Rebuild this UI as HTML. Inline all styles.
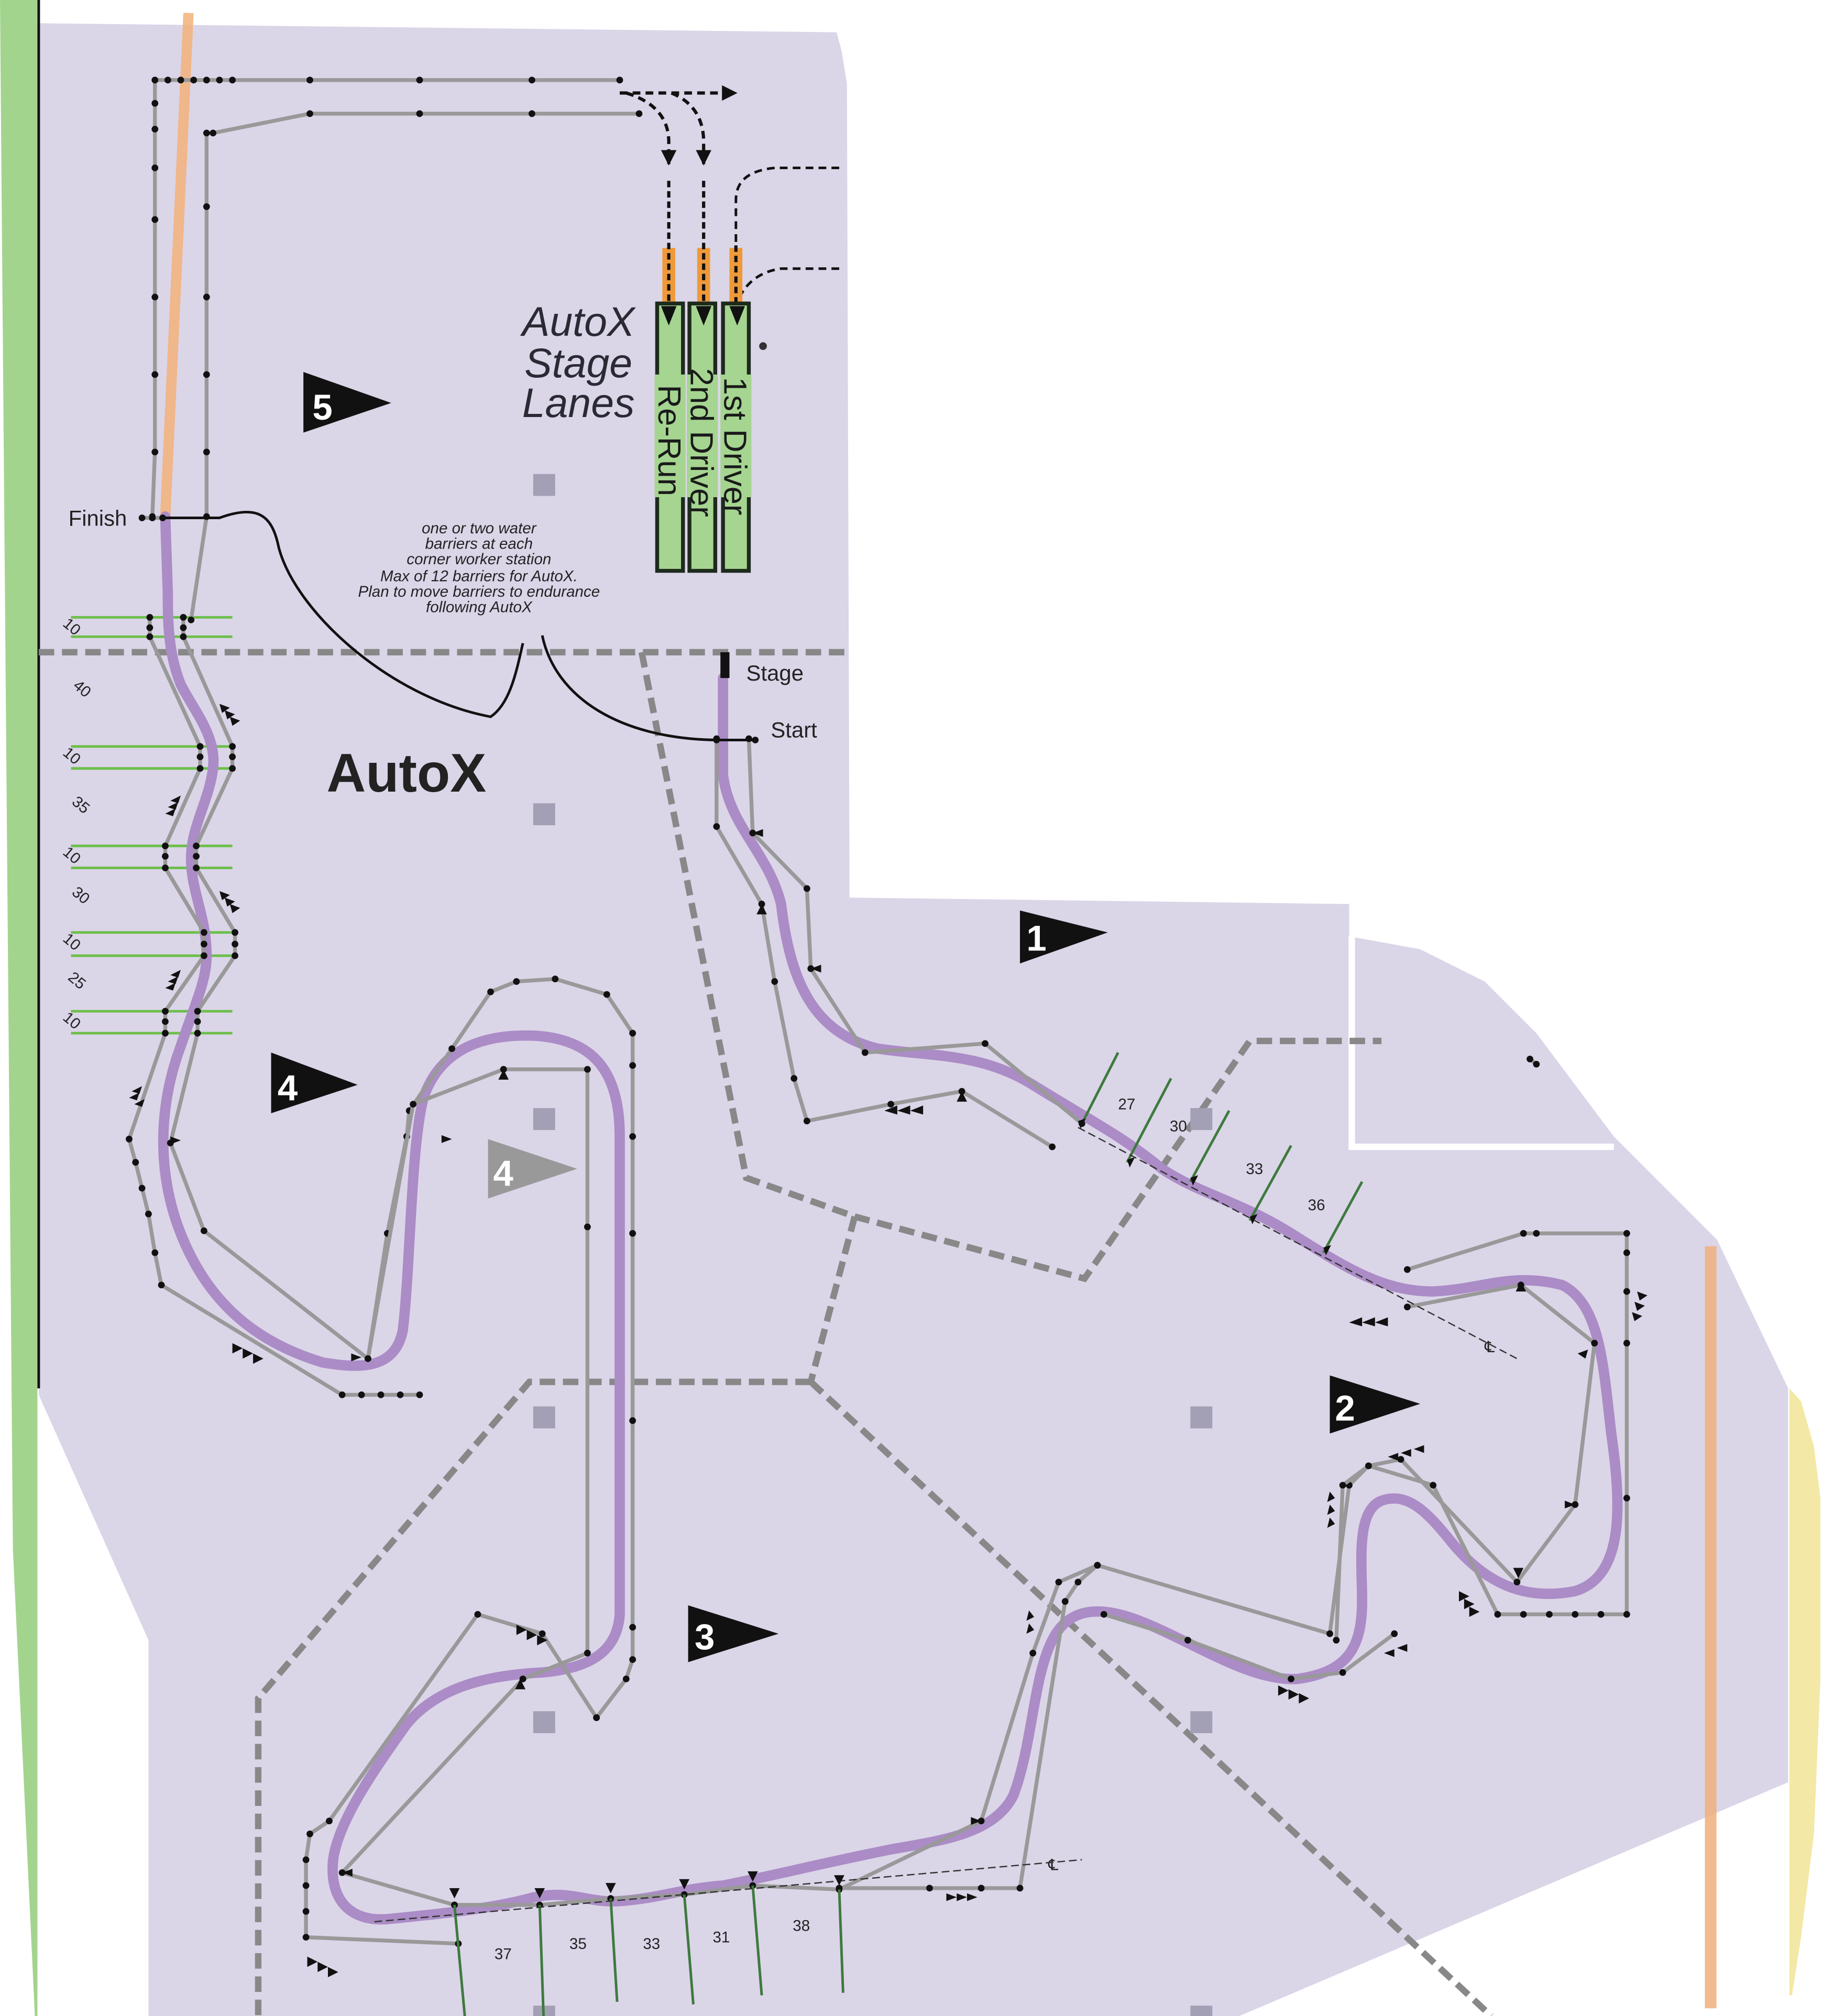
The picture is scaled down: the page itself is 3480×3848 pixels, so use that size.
<!DOCTYPE html>
<html><head><meta charset="utf-8"><style>html,body{margin:0;padding:0;background:#fff}svg{display:block}</style></head>
<body>
<svg width="3480" height="3848" viewBox="0 0 1412 1561" preserveAspectRatio="none" xmlns="http://www.w3.org/2000/svg" font-family="Liberation Sans, sans-serif">
<defs>
<marker id="d" viewBox="-3 -3 6 6" markerWidth="6" markerHeight="6" markerUnits="userSpaceOnUse"><circle r="2.6" fill="#111"/></marker>
<marker id="ah" viewBox="0 0 10 10" refX="9" refY="5" markerWidth="12" markerHeight="12" markerUnits="userSpaceOnUse" orient="auto"><path d="M0,0L10,5L0,10z" fill="#111"/></marker>
</defs>
<rect width="1412" height="1561" fill="#fff"/>
<polygon fill="#dbd5e8" points="30,18 648,25 652,40 656,65 658,695 1045,700 1045,725 1100,735 1150,760 1190,800 1220,840 1250,880 1290,920 1330,960 1385,1075 1385,1380 960,1561 115,1561 115,1270 30,1080"/>
<polyline fill="none" stroke="#fff" stroke-width="5" points="1047,725 1047,888 1250,888"/>
<polygon fill="#a3d48d" points="0,0 29,0 29,1561 27,1561 10,1200 0,0"/>
<line x1="30" y1="0" x2="30" y2="1075" stroke="#111" stroke-width="2"/>
<path d="M1386,1075 L1395,1085 L1405,1120 L1410,1160 L1410,1300 L1405,1420 L1395,1500 L1388,1545 L1386,1545 Z" fill="#f3e8a6"/>
<line x1="146" y1="10" x2="128" y2="400" stroke="#f3b27a" stroke-width="8" opacity="0.85"/>
<line x1="1325" y1="965" x2="1325" y2="1555" stroke="#efb07c" stroke-width="9" opacity="0.85"/>
<g fill="none" stroke="#888" stroke-width="5" stroke-dasharray="12,6">
<line x1="30" y1="505" x2="658" y2="505"/>
<polyline points="497,505 578,912 662,942 840,990 968,806 1070,806"/>
<polyline points="662,942 628,1070"/>
<polyline points="628,1070 410,1070 200,1315 200,1561"/>
<polyline points="628,1070 1155,1561"/>
</g>
<g fill="#a39fb5">
<rect x="413" y="367" width="17" height="17"/><rect x="413" y="622" width="17" height="17"/>
<rect x="413" y="858" width="17" height="17"/><rect x="922" y="858" width="17" height="17"/>
<rect x="413" y="1089" width="17" height="17"/><rect x="922" y="1089" width="17" height="17"/>
<rect x="413" y="1325" width="17" height="17"/><rect x="922" y="1325" width="17" height="17"/>
<rect x="413" y="1553" width="17" height="17"/><rect x="922" y="1553" width="17" height="17"/>
</g>
<g stroke="#6cbf4a" stroke-width="2">
<line x1="55" y1="478" x2="180" y2="478"/><line x1="55" y1="493" x2="180" y2="493"/>
<line x1="55" y1="578" x2="180" y2="578"/><line x1="55" y1="595" x2="180" y2="595"/>
<line x1="55" y1="655" x2="180" y2="655"/><line x1="55" y1="672" x2="180" y2="672"/>
<line x1="55" y1="722" x2="180" y2="722"/><line x1="55" y1="740" x2="180" y2="740"/>
<line x1="55" y1="783" x2="180" y2="783"/><line x1="55" y1="800" x2="180" y2="800"/>
</g>
<g font-size="12" fill="#222">
<text transform="translate(48,484) rotate(40)">10</text>
<text transform="translate(56,532) rotate(40)">40</text>
<text transform="translate(48,584) rotate(40)">10</text>
<text transform="translate(55,622) rotate(40)">35</text>
<text transform="translate(48,661) rotate(40)">10</text>
<text transform="translate(55,692) rotate(40)">30</text>
<text transform="translate(48,728) rotate(40)">10</text>
<text transform="translate(52,758) rotate(40)">25</text>
<text transform="translate(48,789) rotate(40)">10</text>
</g>
<path fill="none" stroke="#ab8cc6" stroke-width="8" stroke-linecap="round" stroke-linejoin="round" d="M560,525 L560,600 C565,640 595,660 605,700 C612,760 630,800 680,812 C720,818 760,815 800,840 C840,865 870,880 900,905 C930,925 960,930 1000,955 C1040,980 1070,1000 1110,1000 C1150,998 1170,985 1210,995 C1240,1010 1242,1060 1248,1110 C1255,1160 1260,1220 1220,1232 C1180,1240 1150,1225 1125,1195 C1105,1170 1090,1155 1070,1162 C1050,1170 1055,1210 1055,1240 C1055,1280 1040,1295 1005,1300 C970,1302 930,1275 890,1258 C860,1245 830,1240 815,1270 C800,1300 800,1350 785,1390 C770,1420 730,1425 690,1432 C640,1442 600,1452 560,1460 C530,1462 510,1470 480,1472 C455,1474 440,1462 410,1470 C380,1478 340,1482 300,1486 C270,1488 255,1470 258,1440 C262,1410 290,1370 315,1335 C340,1305 380,1297 420,1295 C455,1292 478,1280 480,1250 L480,880 C480,830 460,805 415,802 C370,800 340,815 328,850 C318,890 318,980 312,1030 C306,1060 280,1060 250,1055 C200,1040 160,1010 138,950 C120,900 125,850 140,810 C150,780 160,760 160,740 C160,710 148,690 148,665 C148,640 162,620 165,595 C168,570 150,550 140,530 C130,505 130,480 130,460 L128,400"/>
<g fill="none" stroke="#999" stroke-width="3" stroke-linejoin="round" marker-start="url(#d)" marker-mid="url(#d)" marker-end="url(#d)">
<polyline points="480,62 412,62 325,62 240,62 180,62 170,62 160,62 150,62 140,62 130,62 120,62 120,80 120,100 120,130 120,170 120,230 120,290 120,350 118,400"/>
<polyline points="495,88 412,88 325,88 240,88 165,103"/>
<polyline points="160,103 160,160 160,230 160,290 160,350 160,400 148,480"/>
<polyline points="110,401 118,401 126,401"/>
<polyline points="116,478 116,486 116,493 155,578 155,586 155,595 128,655 128,663 128,672 158,722 158,731 158,740 128,783 128,791 128,800 100,882 105,900 110,920 115,940 120,970 125,995 265,1080 280,1080 295,1080 310,1080 325,1080"/>
<polyline points="142,478 142,486 142,493 180,578 180,586 180,595 152,655 152,663 152,672 182,722 182,731 182,740 153,783 153,791 153,800 132,885 158,953 285,1052 300,955 315,880 317,860 350,812 380,768 400,760 430,758 470,770 490,800 490,825 490,880 490,955 490,1100 490,1260 490,1285 485,1300 462,1330"/>
<polyline points="285,1052 320,855 390,828 455,828 455,950 455,1280 405,1300 265,1450 352,1475"/>
<polyline points="462,1330 420,1265 370,1250 255,1410 240,1420 237,1440 237,1460 237,1480 237,1500 355,1505"/>
<polyline points="352,1475 418,1475 473,1470 530,1467 583,1460 650,1463 760,1410 800,1280 820,1225 850,1212 1030,1265 1045,1150 1060,1135 1085,1130 1175,1225 1220,1165 1235,1040 1178,995 1090,1012"/>
<polyline points="650,1462 720,1462 760,1462 790,1462 825,1240 835,1225 850,1212"/>
<polyline points="855,1250 920,1270 1000,1300 1040,1295 1080,1265"/>
<polyline points="1090,983 1180,955 1190,955 1260,955 1260,970 1260,1000 1260,1040 1260,1160 1260,1250 1240,1250 1220,1250 1200,1250 1180,1250 1160,1250 1110,1150 1060,1135 1040,1150 1035,1270"/>
<polyline points="555,572 555,640 590,700 600,760 615,835 625,868 690,855 745,845 815,888"/>
<polyline points="580,572 583,645 625,688 628,750 670,815 763,808 838,870"/>
<polyline points="1185,820 1190,824"/>
</g>
<g stroke="#3e7a3e" stroke-width="2">
<line x1="838" y1="870" x2="866" y2="815"/><line x1="873" y1="900" x2="907" y2="835"/>
<line x1="922" y1="915" x2="952" y2="860"/><line x1="968" y1="945" x2="1000" y2="887"/>
<line x1="1025" y1="970" x2="1055" y2="915"/>
<line x1="352" y1="1475" x2="360" y2="1561"/><line x1="418" y1="1475" x2="421" y2="1561"/>
<line x1="473" y1="1470" x2="478" y2="1550"/><line x1="530" y1="1467" x2="537" y2="1552"/>
<line x1="583" y1="1460" x2="590" y2="1545"/><line x1="650" y1="1463" x2="653" y2="1543"/>
</g>
<g font-size="12" fill="#222">
<text x="866" y="859">27</text><text x="906" y="876">30</text><text x="965" y="909">33</text><text x="1013" y="937">36</text>
<text x="383" y="1517">37</text><text x="441" y="1509">35</text><text x="498" y="1509">33</text><text x="552" y="1504">31</text><text x="614" y="1495">38</text>
<text x="1150" y="1047">℄</text><text x="812" y="1448">℄</text>
</g>
<g stroke="#333" stroke-width="1" stroke-dasharray="6,3">
<line x1="835" y1="873" x2="1175" y2="1052"/><line x1="290" y1="1488" x2="838" y2="1440"/>
</g>
<g fill="#111">
<path d="M835,868 l6,-2 l-4,8z M873,898 l6,-2 l-4,8z M922,912 l6,-2 l-4,8z M968,942 l6,-2 l-4,8z M1025,966 l6,-2 l-4,8z"/>
<path d="M1178,992 l-4,8 h8z M1220,1165 l-8,-3 v6z M1176,1222 l-4,-8 h8z M1230,1045 l-8,3 l6,4z"/>
<path d="M1045,1024 l10,-4 v7z M1055,1024 l10,-4 v7z M1065,1024 l10,-4 v7z"/>
<path d="M695,860 l10,-4 v7z M705,860 l10,-4 v7z M685,860 l10,-4 v7z"/>
<path d="M180,1040 l8,4 l-8,4z M188,1044 l8,4 l-8,4z M196,1048 l8,4 l-8,4z"/>
<path d="M238,1515 l8,4 l-8,4z M246,1519 l8,4 l-8,4z M254,1523 l8,4 l-8,4z"/>
<path d="M733,1466 l8,3 l-8,3z M741,1466 l8,3 l-8,3z M749,1466 l8,3 l-8,3z"/>
<path d="M990,1305 l8,4 l-8,4z M998,1308 l8,4 l-8,4z M1006,1311 l8,4 l-8,4z"/>
<path d="M1130,1232 l8,4 l-8,4z M1134,1238 l8,4 l-8,4z M1138,1244 l8,4 l-8,4z"/>
<path d="M400,1258 l8,4 l-8,4z M408,1262 l8,4 l-8,4z M416,1266 l8,4 l-8,4z"/>
<path d="M170,545 l8,3 l-6,4z M174,550 l8,3 l-6,4z M178,555 l8,3 l-6,4z"/>
<path d="M130,625 l8,-4 l-2,6z M128,630 l8,-4 l-2,6z M132,620 l8,-4 l-2,6z"/>
<path d="M170,690 l8,3 l-6,4z M174,695 l8,3 l-6,4z M178,700 l8,3 l-6,4z"/>
<path d="M130,760 l8,-4 l-2,6z M128,765 l8,-4 l-2,6z M132,755 l8,-4 l-2,6z"/>
<path d="M100,850 l8,-4 l-2,6z M102,845 l8,-4 l-2,6z M104,855 l8,-4 l-2,6z"/>
<path d="M1268,1000 l8,3 l-6,4z M1266,1008 l8,3 l-6,4z M1264,1016 l8,3 l-6,4z"/>
<path d="M1085,1125 l8,-3 v6z M1095,1122 l8,-3 v6z M1075,1128 l8,-3 v6z"/>
<path d="M1030,1155 l-2,8 l6,-3z M1030,1165 l-2,8 l6,-3z M1030,1175 l-2,8 l6,-3z"/>
<path d="M1072,1280 l8,-3 v6z M1082,1276 l8,-3 v6z"/>
<path d="M795,1255 l2,-8 l4,5z M795,1265 l2,-8 l4,5z"/>
<path d="M390,828 l-4,8 h8z M403,1300 l-4,8 h8z M265,1450 l8,-3 v6z M350,882 l-8,-3 v6z M140,883 l-8,-3 v6z M272,1048 l8,3 l-8,3z M628,750 l8,-3 v6z M590,700 l-4,8 h8z M583,645 l8,-3 v6z M745,845 l-4,8 h8z M760,1410 l-8,-3 v6z"/>
<path d="M352,1470 l-4,-8 h8z M418,1470 l-4,-8 h8z M473,1466 l-4,-8 h8z M530,1463 l-4,-8 h8z M583,1457 l-4,-8 h8z M650,1460 l-4,-8 h8z"/>
</g>
<g fill="none" stroke="#111" stroke-width="2">
<path d="M126,401 L170,401 C200,390 210,400 215,420 C225,470 300,540 380,555 C395,545 400,520 405,498"/>
<path d="M420,492 C430,540 480,572 555,573 L585,573"/>
</g>
<rect x="558" y="505" width="7" height="20" fill="#111"/>
<circle cx="555" cy="573" r="2.6" fill="#111"/><circle cx="585" cy="573" r="2.6" fill="#111"/>
<g fill="none" stroke="#111" stroke-width="2.5" stroke-dasharray="6,4">
<path d="M480,72 L570,72" marker-end="url(#ah)"/>
<path d="M485,72 C505,78 518,90 518,110 L518,127" marker-end="url(#ah)"/>
<path d="M520,72 C535,78 545,90 545,110 L545,127" marker-end="url(#ah)"/>
</g>
<g fill="none" stroke="#111" stroke-width="2" stroke-dasharray="6,4">
<path d="M650,130 L600,130 C580,132 570,140 570,155 L570,190"/>
<path d="M650,208 L605,208 C590,210 578,218 572,232"/>
</g>
<rect x="513" y="192" width="10" height="45" fill="#ee9a3a"/>
<rect x="540" y="192" width="10" height="45" fill="#ee9a3a"/>
<rect x="565" y="192" width="10" height="45" fill="#ee9a3a"/>
<g stroke="#111" stroke-width="2.5" stroke-dasharray="5,3"><line x1="518" y1="140" x2="518" y2="235"/><line x1="545" y1="140" x2="545" y2="235"/><line x1="570" y1="190" x2="570" y2="235"/></g>
<g fill="#a5d590" stroke="#1d2a1d" stroke-width="3">
<rect x="509" y="235" width="20" height="207"/><rect x="534" y="235" width="20" height="207"/><rect x="560" y="235" width="20" height="207"/>
</g>
<g fill="#a5d590"><rect x="507" y="290" width="24" height="95"/><rect x="532" y="290" width="24" height="95"/><rect x="558" y="290" width="24" height="95"/></g>
<g fill="#111"><path d="M512,237 h12 l-6,15z M539,237 h12 l-6,15z M565,237 h12 l-6,15z"/></g>
<circle cx="591" cy="268" r="3" fill="#333"/>
<g font-size="25" fill="#1a1a1a">
<text transform="translate(510,298) rotate(90)">Re-Run</text>
<text transform="translate(535,285) rotate(90)">2nd Driver</text>
<text transform="translate(561,292) rotate(90)">1st Driver</text>
</g>
<g font-size="32" font-style="italic" fill="#2a2a35" text-anchor="middle">
<text x="448" y="260">AutoX</text><text x="448" y="292">Stage</text><text x="448" y="323">Lanes</text>
</g>
<g font-size="12" font-style="italic" fill="#222" text-anchor="middle">
<text x="371" y="413">one or two water</text><text x="371" y="425">barriers at each</text>
<text x="371" y="437">corner worker station</text><text x="371" y="450">Max of 12 barriers for AutoX.</text>
<text x="371" y="462">Plan to move barriers to endurance</text><text x="371" y="474">following AutoX</text>
</g>
<text x="253" y="613" font-size="42" font-weight="bold" fill="#222">AutoX</text>
<text x="53" y="407" font-size="17" fill="#222">Finish</text>
<text x="578" y="527" font-size="17" fill="#222">Stage</text>
<text x="597" y="571" font-size="17" fill="#222">Start</text>
<g font-weight="bold" font-size="28" fill="#fff">
<polygon points="235,288 235,335 303,312" fill="#111"/><text x="242" y="325">5</text>
<polygon points="790,705 790,746 858,722" fill="#111"/><text x="795" y="736">1</text>
<polygon points="210,815 210,862 277,840" fill="#111"/><text x="215" y="852">4</text>
<polygon points="378,882 378,928 447,905" fill="#999"/><text x="382" y="918">4</text>
<polygon points="533,1243 533,1287 603,1265" fill="#111"/><text x="538" y="1277">3</text>
<polygon points="1030,1065 1030,1110 1100,1087" fill="#111"/><text x="1034" y="1100">2</text>
</g>
</svg>
</body></html>
